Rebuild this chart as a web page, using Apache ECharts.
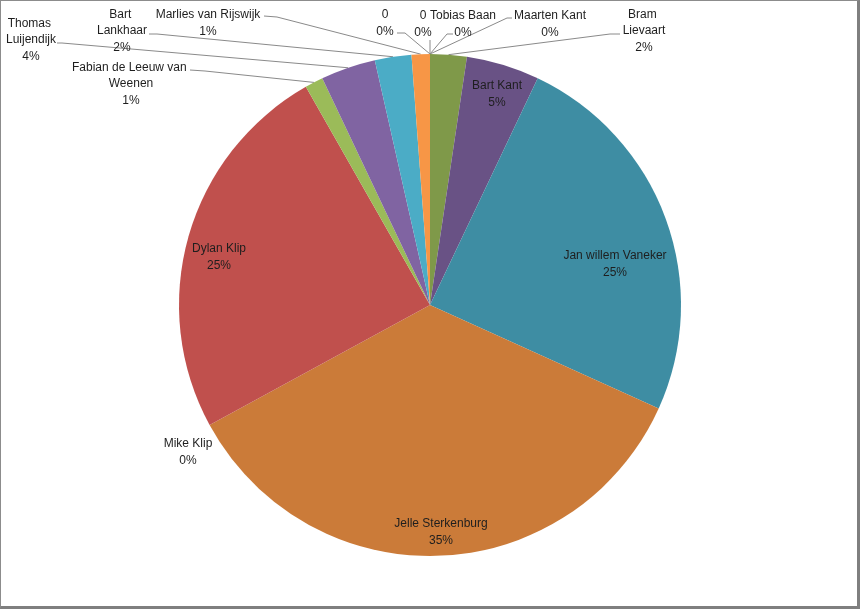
<!DOCTYPE html>
<html>
<head>
<meta charset="utf-8">
<script src="https://cdn.jsdelivr.net/npm/echarts@6/dist/echarts.min.js"></script>
<style>
  html, body { margin: 0; padding: 0; background: #fff; }
  #wrap { position: relative; width: 860px; height: 609px; }
  #chart { position: absolute; left: 0; top: 0; width: 860px; height: 609px; }
  #frame { position: absolute; left: 0; top: 0; width: 860px; height: 609px; box-sizing: border-box;
           border-top: 1px solid #8c8c8c; border-left: 1px solid #8c8c8c;
           border-right: 3px solid #7f7f7f; border-bottom: 3px solid #7f7f7f; pointer-events: none; }
</style>
</head>
<body>
<div id="wrap"><div id="chart"></div><div id="frame"></div></div>
<script>
// Data (clockwise from 12 o'clock)
const names  = ['Tobias Baan', 'Maarten Kant', 'Bram Lievaart', 'Bart Kant', 'Jan willem Vaneker',
                'Jelle Sterkenburg', 'Mike Klip', 'Dylan Klip', 'Fabian de Leeuw van Weenen',
                'Thomas Luijendijk', 'Bart Lankhaar', 'Marlies van Rijswijk', '0', '0'];
const values = [0, 0, 2, 4, 21, 30, 0, 21, 1, 3, 2, 1, 0, 0];
const colors = ['#4F81BD', '#8064A2', '#7F9949', '#695285', '#3E8DA3',
                '#CB7B39', '#4F81BD', '#C0504D', '#9BBB59',
                '#8064A2', '#4BACC6', '#F79646', '#3A6495', '#953735'];

// Label layout (styling): label centre, line elbow, line attach point; inside = no leader line
const labelLayoutSpec = [
  { x: 463, y: 24, elbow: [447, 34], attach: [453, 34], wrap: 0 },
  { x: 550, y: 24, elbow: [507, 18], attach: [512, 18], wrap: 0 },
  { x: 644, y: 31, elbow: [610, 34], attach: [620, 34], wrap: 50 },
  { x: 497, y: 94, inside: true },
  { x: 615, y: 264, inside: true },
  { x: 441, y: 532, inside: true },
  { x: 188, y: 452, noLine: true },
  { x: 219, y: 257, inside: true },
  { x: 131, y: 84, elbow: [205, 71], attach: [190, 70], wrap: 125 },
  { x: 31, y: 40, elbow: [62, 43], attach: [57, 43], wrap: 62 },
  { x: 122, y: 31, elbow: [157, 34], attach: [149, 34], wrap: 58 },
  { x: 208, y: 23, elbow: [277, 17], attach: [264, 16], wrap: 0 },
  { x: 385, y: 23, elbow: [405, 33], attach: [397, 33], wrap: 0 },
  { x: 423, y: 24, elbow: [430, 41], attach: [430, 40], wrap: 0 }
];

const seriesData = names.map((n, i) => {
  const spec = labelLayoutSpec[i];
  const item = { name: n, value: values[i], itemStyle: { color: colors[i] } };
  if (spec.inside) {
    item.label = { position: 'inside' };
    item.labelLine = { show: false };
  } else if (spec.noLine) {
    item.labelLine = { show: false };
  }
  if (spec.wrap) {
    item.label = Object.assign(item.label || {}, { width: spec.wrap, overflow: 'break' });
  }
  return item;
});

const chart = echarts.init(document.getElementById('chart'), null, { renderer: 'canvas' });
chart.setOption({
  animation: false,
  backgroundColor: '#ffffff',
  series: [{
    type: 'pie',
    center: [430, 305],
    radius: 251,
    startAngle: 90,
    clockwise: true,
    avoidLabelOverlap: false,
    minShowLabelAngle: 0,
    stillShowZeroSum: true,
    itemStyle: { borderWidth: 0 },
    label: {
      show: true,
      position: 'outside',
      fontFamily: 'Liberation Sans, Arial, sans-serif',
      fontSize: 12,
      lineHeight: 16.5,
      color: '#1e1e1e',
      align: 'center',
      formatter: p => p.name + '\n' + Math.round(p.percent) + '%'
    },
    labelLine: {
      show: true,
      length: 10,
      length2: 10,
      lineStyle: { color: '#8a8a8a', width: 1 }
    },
    labelLayout: function (params) {
      const s = labelLayoutSpec[params.dataIndex];
      const res = { x: s.x, y: s.y, align: 'center', verticalAlign: 'middle' };
      if (!s.inside && !s.noLine && params.labelLinePoints) {
        res.labelLinePoints = [params.labelLinePoints[0], s.elbow, s.attach];
      }
      return res;
    },
    data: seriesData
  }]
});
</script>
</body>
</html>
